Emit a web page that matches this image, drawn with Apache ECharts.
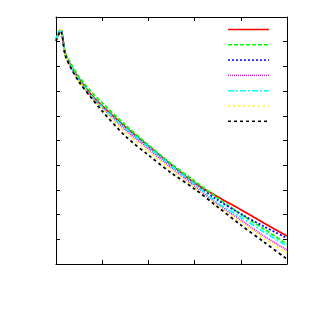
<!DOCTYPE html>
<html><head><meta charset="utf-8">
<script src="https://cdn.jsdelivr.net/npm/echarts@6/dist/echarts.min.js"></script>
<style>html,body{margin:0;padding:0;background:#fff}#c{width:314px;height:314px}</style>
</head><body><div id="c"></div>
<script>
const xValues = [0, 0.1, 0.2, 0.3, 0.5, 0.75, 1.0, 1.5, 2.0, 2.5, 3.0, 3.5, 4.0, 4.5, 5.0];
const s1 = [9.07, 9.47, 8.50, 8.10, 7.49, 6.88, 6.40, 5.55, 4.78, 4.01, 3.28, 2.72, 2.20, 1.66, 1.13];
const s2 = [9.11, 9.51, 8.58, 8.18, 7.57, 7.00, 6.52, 5.63, 4.82, 4.05, 3.36, 2.67, 2.02, 1.42, 0.81];
const s3 = [9.07, 9.47, 8.50, 8.10, 7.45, 6.84, 6.36, 5.51, 4.74, 3.97, 3.24, 2.59, 2.03, 1.52, 1.05];
const s4 = [9.07, 9.47, 8.46, 8.06, 7.41, 6.80, 6.32, 5.43, 4.66, 3.89, 3.16, 2.43, 1.78, 1.13, 0.57];
const s5 = [9.07, 9.47, 8.50, 8.10, 7.45, 6.84, 6.36, 5.51, 4.74, 3.97, 3.24, 2.47, 1.90, 1.30, 0.73];
const s6 = [9.07, 9.47, 8.46, 8.06, 7.41, 6.80, 6.28, 5.34, 4.57, 3.81, 3.08, 2.35, 1.70, 1.05, 0.45];
const s7 = [9.03, 9.43, 8.46, 8.02, 7.37, 6.76, 6.19, 5.18, 4.41, 3.68, 3.04, 2.31, 1.58, 0.89, 0.20];
const seriesNames = ['s1','s2','s3','s4','s5','s6','s7'];
const seriesData = [s1, s2, s3, s4, s5, s6, s7];
const colors = ['#ff0000','#00ff00','#0000ff','#ff00ff','#00ffff','#ffff00','#000000'];
const dashes = ['solid',[4,2],[2,2],[1,1],[6,2,2,2],[2,3],[3,3]];

const chart = echarts.init(document.getElementById('c'), null, {renderer:'canvas'});
const axisCommon = {
  axisLine:{show:true, onZero:false, lineStyle:{color:'#000', width:1}},
  axisTick:{show:true, inside:true, length:4, lineStyle:{color:'#000'}},
  axisLabel:{show:false}, splitLine:{show:false}
};
const legendLines = seriesNames.map((n,i)=>({
  type:'line', shape:{x1:228, y1:29.5+i*15.3, x2:269, y2:29.5+i*15.3},
  style:{stroke:colors[i], lineWidth:1.5, lineDash: dashes[i]==='solid'? null : dashes[i]}
}));
chart.setOption({
  animation:false,
  grid:{left:56, top:17, right:27, bottom:50, containLabel:false},
  graphic: legendLines,
  xAxis:[
    Object.assign({type:'value', min:0, max:5, interval:1, position:'bottom'}, axisCommon),
    Object.assign({type:'value', min:0, max:5, interval:1, position:'top'}, axisCommon)
  ],
  yAxis:[
    Object.assign({type:'value', min:0, max:10, interval:1, position:'left'}, axisCommon),
    Object.assign({type:'value', min:0, max:10, interval:1, position:'right'}, axisCommon)
  ],
  series: seriesData.map((d,i)=>({
    name: seriesNames[i], type:'line', showSymbol:false, symbol:'none', smooth:0.3,
    data: d.map((v,j)=>[xValues[j], v]),
    itemStyle:{color:colors[i]},
    lineStyle:{color:colors[i], width:1.8, type:dashes[i]}
  }))
});
</script></body></html>
